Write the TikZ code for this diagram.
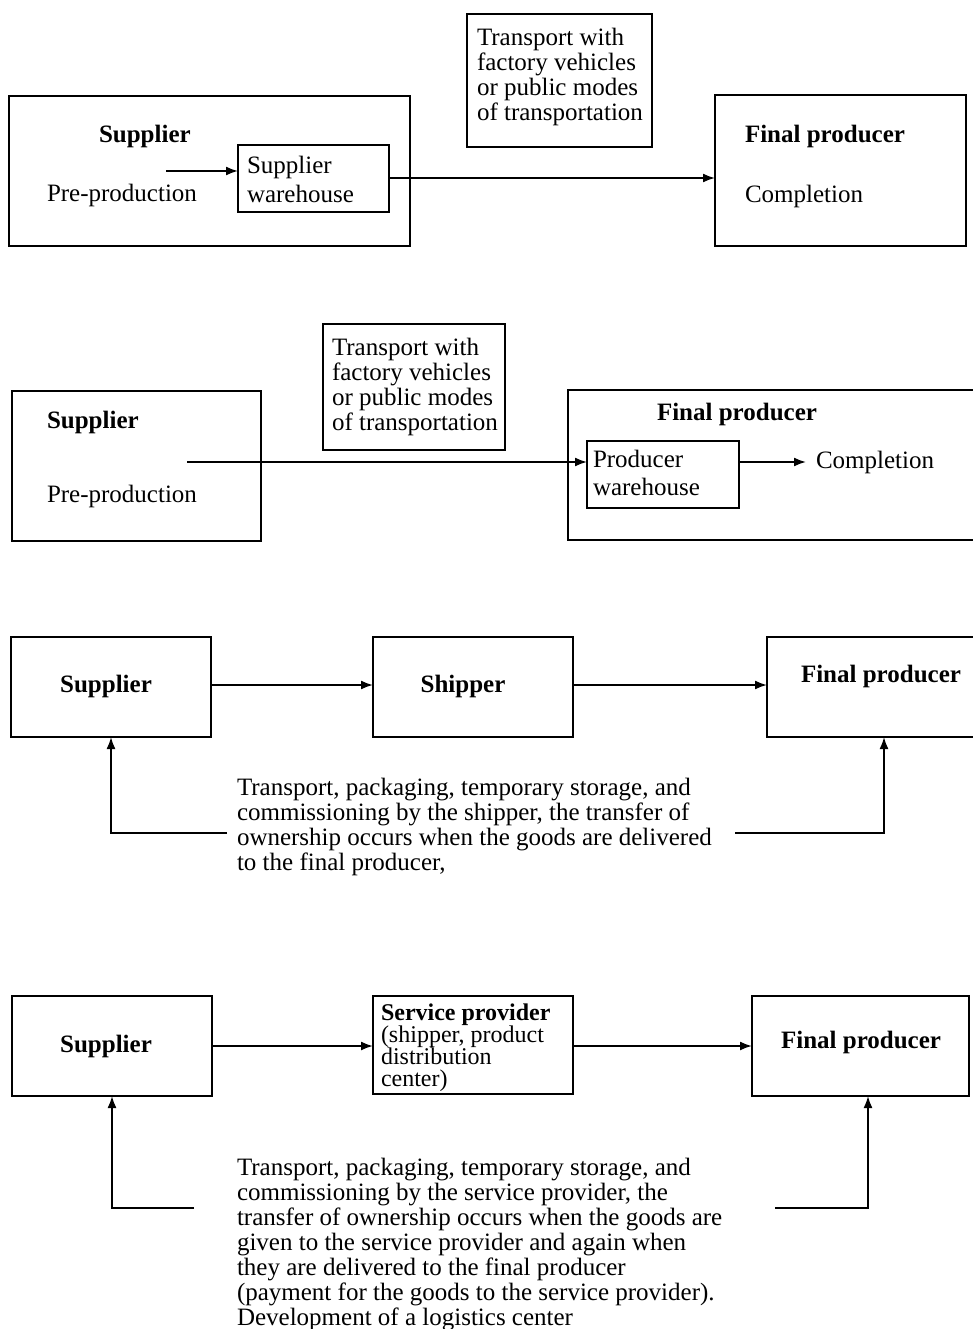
\documentclass[tikz,border=0pt]{standalone}
\usepackage{fontspec}
\setmainfont{Liberation Serif}
\usetikzlibrary{fit,arrows.meta}
\begin{document}
\begin{tikzpicture}[x=1pt,y=-1pt,
  every node/.style={font=\fontsize{25}{25}\selectfont, inner sep=0pt, outer sep=0pt},
  box/.style={draw, line width=2.2pt, inner sep=0pt},
  lbl/.style={anchor=base west},
  head/.style={anchor=base west, font=\fontsize{25}{25}\selectfont\bfseries},
  chead/.style={anchor=base, font=\fontsize{25}{25}\selectfont\bfseries},
  para/.style={anchor=north west, align=left},
  conn/.style={line width=1.8pt},
  flow/.style={conn, -{Latex[length=12pt,width=9pt]}},
]
\clip (0,0) rectangle (973,1329);

% ---------- Variant 1: warehouse at the supplier ----------
\node[box, fit={(9,96) (410,246)}] (sup1) {};
\node[head] (sup1h) at (99,143) {Supplier};
\node[lbl] (pre1) at (47,202) {Pre-production};
\node[box, fit={(238,145) (389,212)}] (wh1) {};
\node[para, font=\fontsize{25}{29}\selectfont] (wh1t) at (247,156) {Supplier\\warehouse};
\coordinate (a1) at (166,171);
\draw[flow] (a1) -- (wh1.west |- a1);
\node[box, fit={(467,14) (652,147)}] (tr1) {};
\node[para] (tr1t) at (477,28) {Transport with\\factory vehicles\\or public modes\\of transportation};
\node[box, fit={(715,95) (966,246)}] (fp1) {};
\node[head] (fp1h) at (745,143) {Final producer};
\node[lbl] (cmp1) at (745,203) {Completion};
\coordinate (m1) at (0,178);
\draw[flow] (wh1.east |- m1) -- (fp1.west |- m1);

% ---------- Variant 2: warehouse at the final producer ----------
\node[box, fit={(12,391) (261,541)}] (sup2) {};
\node[head] (sup2h) at (47,428) {Supplier};
\node[lbl] (pre2) at (47,502) {Pre-production};
\node[box, fit={(323,324) (505,450)}] (tr2) {};
\node[para] (tr2t) at (332,338) {Transport with\\factory vehicles\\or public modes\\of transportation};
\node[box, fit={(568,390) (990,540)}] (fp2) {};
\node[head] (fp2h) at (657,420) {Final producer};
\node[box, fit={(587,441) (739,508)}] (wh2) {};
\node[para, font=\fontsize{25}{28}\selectfont] (wh2t) at (593,450) {Producer\\warehouse};
\node[lbl] (cmp2) at (816,468) {Completion};
\coordinate (s2) at (187,462);
\coordinate (e2) at (806,462);
\draw[flow] (s2) -- (wh2.west |- s2);
\draw[flow] (wh2.east |- s2) -- (e2);

% ---------- Variant 3: shipper ----------
\node[box, fit={(11,637) (211,737)}] (sup3) {};
\node[chead] (sup3h) at (106,692) {Supplier};
\node[box, fit={(373,637) (573,737)}] (shp3) {};
\node[chead] (shp3h) at (463,692) {Shipper};
\node[box, fit={(767,637) (990,737)}] (fp3) {};
\node[head] (fp3h) at (801,682) {Final producer};
\coordinate (r3) at (0,685);
\draw[flow] (sup3.east |- r3) -- (shp3.west |- r3);
\draw[flow] (shp3.east |- r3) -- (fp3.west |- r3);
\node[para] (txt3) at (237,778) {Transport, packaging, temporary storage, and\\commissioning by the shipper, the transfer of\\ownership occurs when the goods are delivered\\to the final producer,};
\coordinate (l3) at (227,833);
\coordinate (rr3) at (735,833);
\coordinate (kl3) at (111,0);
\coordinate (kr3) at (884,0);
\draw[flow] (l3) -| (sup3.south -| kl3);
\draw[flow] (rr3) -| (fp3.south -| kr3);

% ---------- Variant 4: service provider ----------
\node[box, fit={(12,996) (212,1096)}] (sup4) {};
\node[chead] (sup4h) at (106,1052) {Supplier};
\node[box, fit={(373,996) (573,1094)}] (srv4) {};
\node[para, font=\fontsize{24}{22}\selectfont] (srv4t) at (381,1004) {\textbf{Service provider}\\(shipper, product\\distribution\\center)};
\node[box, fit={(752,996) (969,1096)}] (fp4) {};
\node[chead] (fp4h) at (861,1048) {Final producer};
\coordinate (r4) at (0,1046);
\draw[flow] (sup4.east |- r4) -- (srv4.west |- r4);
\draw[flow] (srv4.east |- r4) -- (fp4.west |- r4);
\node[para] (txt4) at (237,1158) {Transport, packaging, temporary storage, and\\commissioning by the service provider, the\\transfer of ownership occurs when the goods are\\given to the service provider and again when\\they are delivered to the final producer\\(payment for the goods to the service provider).\\Development of a logistics center};
\coordinate (l4) at (194,1208);
\coordinate (rr4) at (775,1208);
\coordinate (kl4) at (112,0);
\coordinate (kr4) at (868,0);
\draw[flow] (l4) -| (sup4.south -| kl4);
\draw[flow] (rr4) -| (fp4.south -| kr4);
\end{tikzpicture}
\end{document}
